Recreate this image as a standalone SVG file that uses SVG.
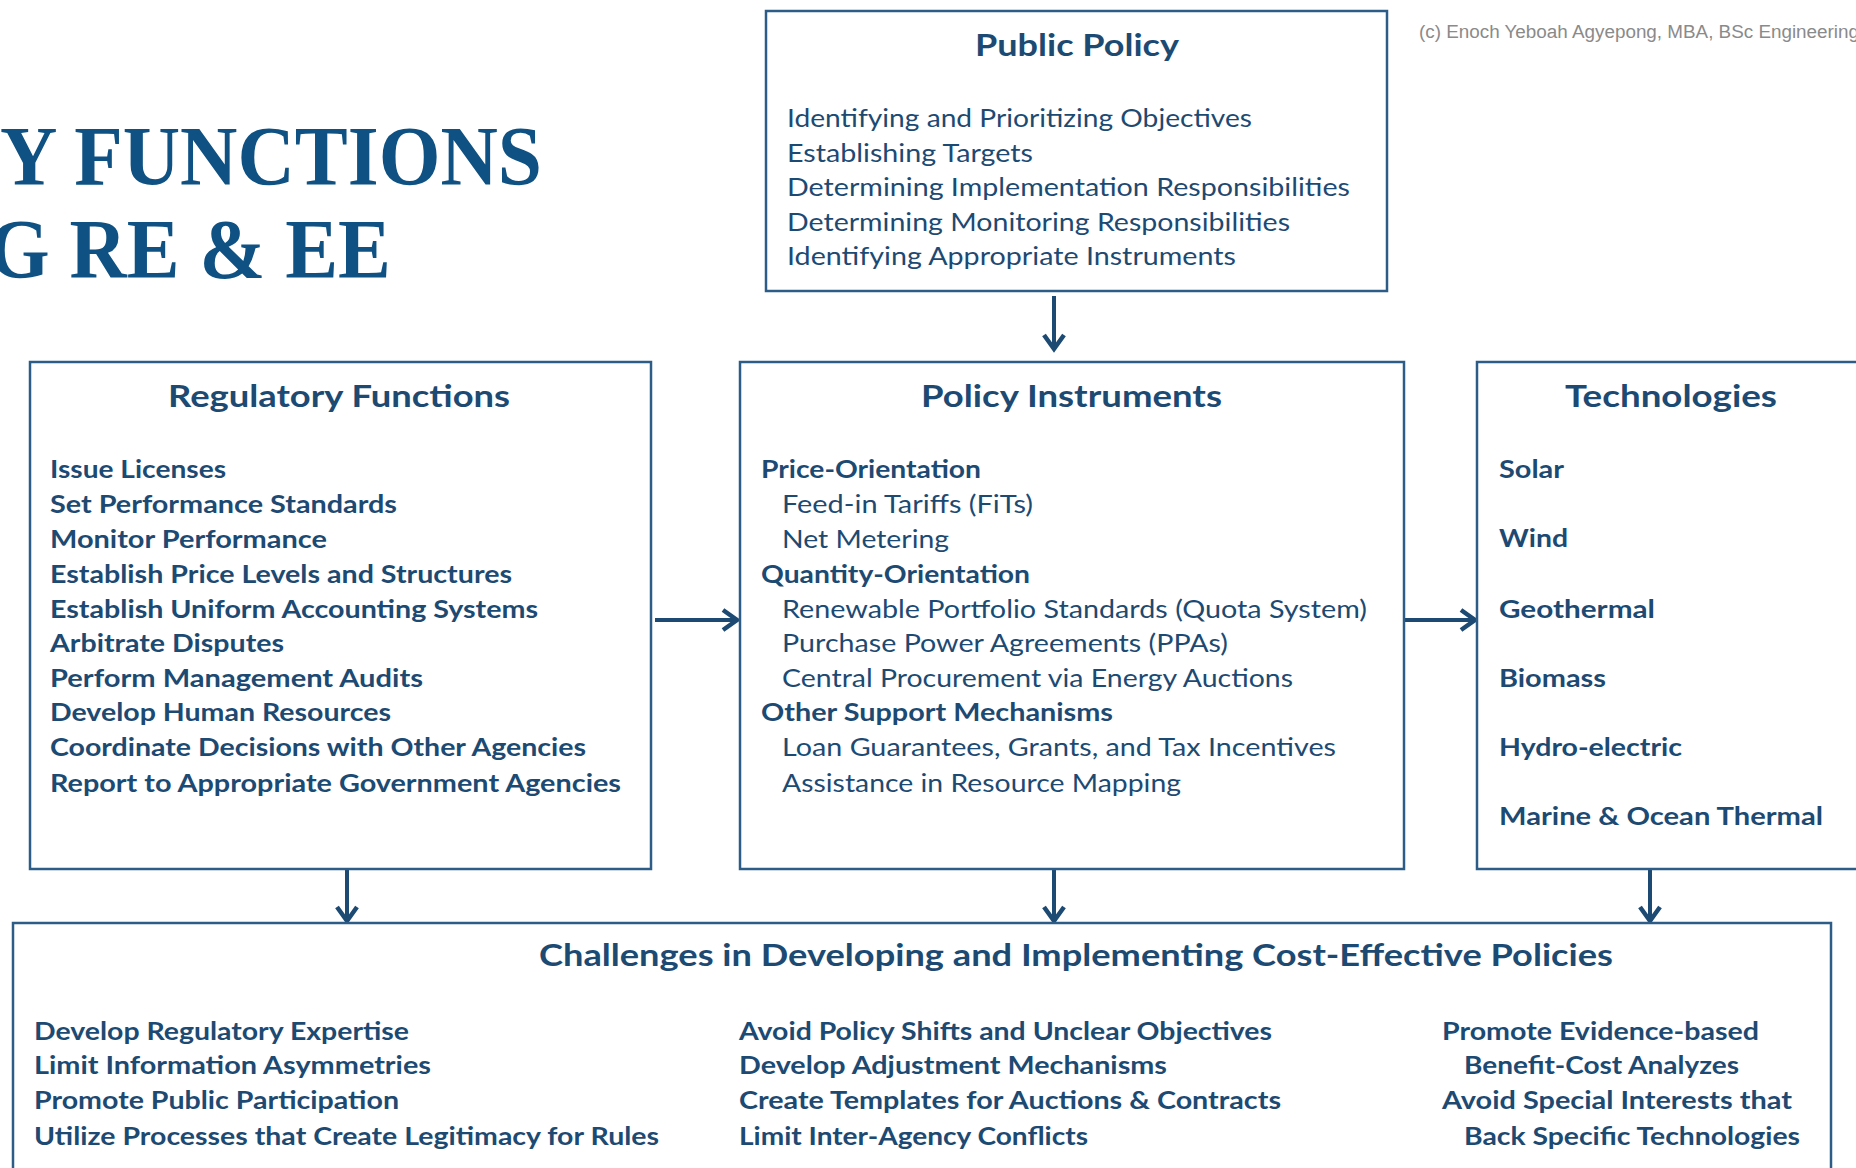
<svg xmlns="http://www.w3.org/2000/svg" width="1856" height="1168" viewBox="0 0 1856 1168">
<style>
.bg{fill:#ffffff}
.box{fill:#ffffff;stroke:#2d5c86;stroke-width:2.5}
.hd{font-family:Lato,"Open Sans",sans-serif;font-weight:700;font-size:31px;fill:#1d4a72}
.b{font-family:Lato,"Open Sans",sans-serif;font-weight:700;font-size:25px;fill:#1d4a72}
.r{font-family:Lato,"Open Sans",sans-serif;font-weight:400;font-size:25px;fill:#1d4a72}
.ttl{font-family:"Liberation Serif","Times New Roman",serif;font-weight:700;font-size:84px;fill:#0e5182}
.cp{font-family:"Liberation Sans",Arial,sans-serif;font-size:18px;fill:#8a8a8a}
.conn{stroke:#1d4a72;stroke-width:4;fill:none}
</style>
<defs>
<marker id="ah" markerUnits="userSpaceOnUse" markerWidth="24" markerHeight="26" refX="17" refY="12" orient="auto">
<path d="M3,2 L17,12 L3,22" fill="none" stroke="#1d4a72" stroke-width="4.5" stroke-linejoin="miter"/>
</marker>
</defs>
<rect class="bg" x="0" y="0" width="1856" height="1168"/>

<g id="title">
<text class="ttl" x="0" y="185" textLength="542" lengthAdjust="spacingAndGlyphs">Y FUNCTIONS</text>
<text class="ttl" x="-12" y="278" textLength="403" lengthAdjust="spacingAndGlyphs">G RE &amp; EE</text>
</g>

<g id="copyright">
<text class="cp" x="1419" y="38" textLength="440" lengthAdjust="spacingAndGlyphs">(c) Enoch Yeboah Agyepong, MBA, BSc Engineering</text>
</g>

<g id="connectors">
<line class="conn" x1="1054" y1="296" x2="1054" y2="349" marker-end="url(#ah)"/>
<line class="conn" x1="655" y1="620" x2="737" y2="620" marker-end="url(#ah)"/>
<line class="conn" x1="1405" y1="620" x2="1475" y2="620" marker-end="url(#ah)"/>
<line class="conn" x1="347" y1="869" x2="347" y2="921" marker-end="url(#ah)"/>
<line class="conn" x1="1054" y1="869" x2="1054" y2="921" marker-end="url(#ah)"/>
<line class="conn" x1="1650" y1="869" x2="1650" y2="921" marker-end="url(#ah)"/>
</g>

<g id="public-policy">
<rect class="box" x="766" y="11" width="621" height="280"/>
<text class="hd" x="975" y="56" textLength="204" lengthAdjust="spacingAndGlyphs">Public Policy</text>
<text class="r" x="787" y="127" textLength="465" lengthAdjust="spacingAndGlyphs">Identifying and Prioritizing Objectives</text>
<text class="r" x="787" y="161.5" textLength="246" lengthAdjust="spacingAndGlyphs">Establishing Targets</text>
<text class="r" x="787" y="196" textLength="563" lengthAdjust="spacingAndGlyphs">Determining Implementation Responsibilities</text>
<text class="r" x="787" y="230.5" textLength="503" lengthAdjust="spacingAndGlyphs">Determining Monitoring Responsibilities</text>
<text class="r" x="787" y="265" textLength="449" lengthAdjust="spacingAndGlyphs">Identifying Appropriate Instruments</text>
</g>

<g id="regulatory-functions">
<rect class="box" x="30" y="362" width="621" height="507"/>
<text class="hd" x="168" y="407" textLength="342" lengthAdjust="spacingAndGlyphs">Regulatory Functions</text>
<text class="b" x="50" y="478" textLength="176" lengthAdjust="spacingAndGlyphs">Issue Licenses</text>
<text class="b" x="50" y="513" textLength="347" lengthAdjust="spacingAndGlyphs">Set Performance Standards</text>
<text class="b" x="50" y="548" textLength="277" lengthAdjust="spacingAndGlyphs">Monitor Performance</text>
<text class="b" x="50" y="583" textLength="462" lengthAdjust="spacingAndGlyphs">Establish Price Levels and Structures</text>
<text class="b" x="50" y="618" textLength="488" lengthAdjust="spacingAndGlyphs">Establish Uniform Accounting Systems</text>
<text class="b" x="50" y="652" textLength="234" lengthAdjust="spacingAndGlyphs">Arbitrate Disputes</text>
<text class="b" x="50" y="687" textLength="373" lengthAdjust="spacingAndGlyphs">Perform Management Audits</text>
<text class="b" x="50" y="721" textLength="341" lengthAdjust="spacingAndGlyphs">Develop Human Resources</text>
<text class="b" x="50" y="756" textLength="536" lengthAdjust="spacingAndGlyphs">Coordinate Decisions with Other Agencies</text>
<text class="b" x="50" y="792" textLength="571" lengthAdjust="spacingAndGlyphs">Report to Appropriate Government Agencies</text>
</g>

<g id="policy-instruments">
<rect class="box" x="740" y="362" width="664" height="507"/>
<text class="hd" x="921" y="407" textLength="301" lengthAdjust="spacingAndGlyphs">Policy Instruments</text>
<text class="b" x="761" y="478" textLength="220" lengthAdjust="spacingAndGlyphs">Price-Orientation</text>
<text class="r" x="782" y="513" textLength="251" lengthAdjust="spacingAndGlyphs">Feed-in Tariffs (FiTs)</text>
<text class="r" x="782" y="548" textLength="167" lengthAdjust="spacingAndGlyphs">Net Metering</text>
<text class="b" x="761" y="583" textLength="269" lengthAdjust="spacingAndGlyphs">Quantity-Orientation</text>
<text class="r" x="782" y="618" textLength="585" lengthAdjust="spacingAndGlyphs">Renewable Portfolio Standards (Quota System)</text>
<text class="r" x="782" y="652" textLength="446" lengthAdjust="spacingAndGlyphs">Purchase Power Agreements (PPAs)</text>
<text class="r" x="782" y="687" textLength="511" lengthAdjust="spacingAndGlyphs">Central Procurement via Energy Auctions</text>
<text class="b" x="761" y="721" textLength="352" lengthAdjust="spacingAndGlyphs">Other Support Mechanisms</text>
<text class="r" x="782" y="756" textLength="554" lengthAdjust="spacingAndGlyphs">Loan Guarantees, Grants, and Tax Incentives</text>
<text class="r" x="782" y="792" textLength="399" lengthAdjust="spacingAndGlyphs">Assistance in Resource Mapping</text>
</g>

<g id="technologies">
<rect class="box" x="1477" y="362" width="420" height="507"/>
<text class="hd" x="1565" y="407" textLength="212" lengthAdjust="spacingAndGlyphs">Technologies</text>
<text class="b" x="1499" y="478" textLength="65" lengthAdjust="spacingAndGlyphs">Solar</text>
<text class="b" x="1499" y="547" textLength="69" lengthAdjust="spacingAndGlyphs">Wind</text>
<text class="b" x="1499" y="618" textLength="156" lengthAdjust="spacingAndGlyphs">Geothermal</text>
<text class="b" x="1499" y="687" textLength="107" lengthAdjust="spacingAndGlyphs">Biomass</text>
<text class="b" x="1499" y="756" textLength="183" lengthAdjust="spacingAndGlyphs">Hydro-electric</text>
<text class="b" x="1499" y="825" textLength="324" lengthAdjust="spacingAndGlyphs">Marine &amp; Ocean Thermal</text>
</g>

<g id="challenges">
<rect class="box" x="13" y="923" width="1818" height="280"/>
<text class="hd" x="539" y="966" textLength="1074" lengthAdjust="spacingAndGlyphs">Challenges in Developing and Implementing Cost-Effective Policies</text>
<text class="b" x="34" y="1040" textLength="375" lengthAdjust="spacingAndGlyphs">Develop Regulatory Expertise</text>
<text class="b" x="34" y="1074" textLength="397" lengthAdjust="spacingAndGlyphs">Limit Information Asymmetries</text>
<text class="b" x="34" y="1109" textLength="365" lengthAdjust="spacingAndGlyphs">Promote Public Participation</text>
<text class="b" x="34" y="1145" textLength="625" lengthAdjust="spacingAndGlyphs">Utilize Processes that Create Legitimacy for Rules</text>
<text class="b" x="739" y="1040" textLength="533" lengthAdjust="spacingAndGlyphs">Avoid Policy Shifts and Unclear Objectives</text>
<text class="b" x="739" y="1074" textLength="428" lengthAdjust="spacingAndGlyphs">Develop Adjustment Mechanisms</text>
<text class="b" x="739" y="1109" textLength="542" lengthAdjust="spacingAndGlyphs">Create Templates for Auctions &amp; Contracts</text>
<text class="b" x="739" y="1145" textLength="349" lengthAdjust="spacingAndGlyphs">Limit Inter-Agency Conflicts</text>
<text class="b" x="1442" y="1040" textLength="317" lengthAdjust="spacingAndGlyphs">Promote Evidence-based</text>
<text class="b" x="1464" y="1074" textLength="275" lengthAdjust="spacingAndGlyphs">Benefit-Cost Analyzes</text>
<text class="b" x="1442" y="1109" textLength="350" lengthAdjust="spacingAndGlyphs">Avoid Special Interests that</text>
<text class="b" x="1464" y="1145" textLength="336" lengthAdjust="spacingAndGlyphs">Back Specific Technologies</text>
</g>
</svg>
